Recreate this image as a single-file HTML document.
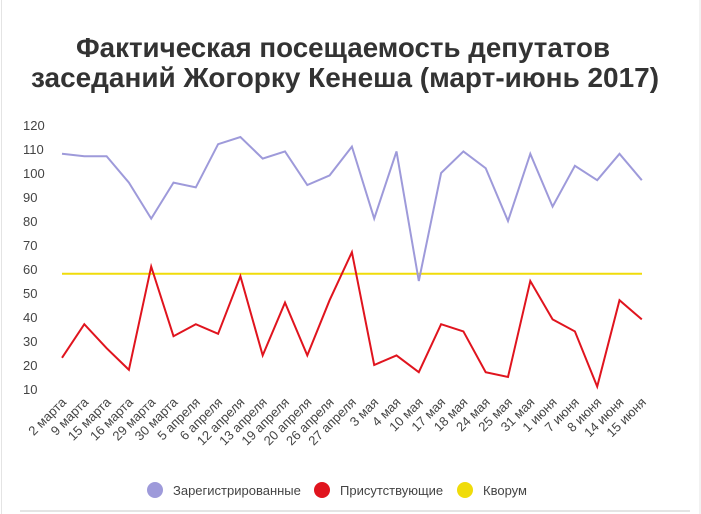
<!DOCTYPE html>
<html><head><meta charset="utf-8"><style>
body{margin:0;background:#fff;}
svg{display:block;font-family:"Liberation Sans",sans-serif;}
</style></head><body>
<svg width="701" height="514" viewBox="0 0 701 514">
<rect width="701" height="514" fill="#fff"/>
<line x1="1.5" y1="0" x2="1.5" y2="514" stroke="#e4e4e4"/>
<line x1="700" y1="0" x2="700" y2="514" stroke="#e4e4e4"/>
<line x1="20" y1="511" x2="690" y2="511" stroke="#dcdcdc" stroke-width="1.5"/>
<text x="343" y="57" text-anchor="middle" font-size="28" font-weight="bold" fill="#333" textLength="534" lengthAdjust="spacingAndGlyphs">Фактическая посещаемость депутатов</text>
<text x="345" y="87" text-anchor="middle" font-size="28" font-weight="bold" fill="#333" textLength="628" lengthAdjust="spacingAndGlyphs">заседаний Жогорку Кенеша (март-июнь 2017)</text>
<g font-size="13" fill="#444">
<text x="23" y="130">120</text><text x="23" y="154">110</text><text x="23" y="178">100</text><text x="23" y="202">90</text><text x="23" y="226">80</text><text x="23" y="250">70</text><text x="23" y="274">60</text><text x="23" y="298">50</text><text x="23" y="322">40</text><text x="23" y="346">30</text><text x="23" y="370">20</text><text x="23" y="394">10</text>
</g>
<line x1="62" y1="273.8" x2="642" y2="273.8" stroke="#f0dc0a" stroke-width="2"/>
<polyline fill="none" stroke="#9e9ada" stroke-width="2" points="62,153.8 84.3,156.2 106.6,156.2 128.9,182.6 151.2,218.6 173.5,182.6 195.8,187.4 218.1,144.2 240.4,137 262.7,158.6 285,151.4 307.3,185 329.6,175.4 351.9,146.6 374.2,218.6 396.5,151.4 418.8,281 441.1,173 463.4,151.4 485.7,168.2 508,221 530.3,153.8 552.6,206.6 574.9,165.8 597.2,180.2 619.5,153.8 641.8,180.2"/>
<polyline fill="none" stroke="#e0141e" stroke-width="2" points="62,357.8 84.3,324.2 106.6,348.2 128.9,369.8 151.2,266.6 173.5,336.2 195.8,324.2 218.1,333.8 240.4,276.2 262.7,355.4 285,302.6 307.3,355.4 329.6,300.2 351.9,252.2 374.2,365 396.5,355.4 418.8,372.2 441.1,324.2 463.4,331.4 485.7,372.2 508,377 530.3,281 552.6,319.4 574.9,331.4 597.2,386.6 619.5,300.2 641.8,319.4"/>
<g font-size="13" fill="#444" text-anchor="end">
<text transform="translate(67,403) rotate(-45)">2 марта</text>
<text transform="translate(89.3,403) rotate(-45)">9 марта</text>
<text transform="translate(111.6,403) rotate(-45)">15 марта</text>
<text transform="translate(133.9,403) rotate(-45)">16 марта</text>
<text transform="translate(156.2,403) rotate(-45)">29 марта</text>
<text transform="translate(178.5,403) rotate(-45)">30 марта</text>
<text transform="translate(200.8,403) rotate(-45)">5 апреля</text>
<text transform="translate(223.1,403) rotate(-45)">6 апреля</text>
<text transform="translate(245.4,403) rotate(-45)">12 апреля</text>
<text transform="translate(267.7,403) rotate(-45)">13 апреля</text>
<text transform="translate(290,403) rotate(-45)">19 апреля</text>
<text transform="translate(312.3,403) rotate(-45)">20 апреля</text>
<text transform="translate(334.6,403) rotate(-45)">26 апреля</text>
<text transform="translate(356.9,403) rotate(-45)">27 апреля</text>
<text transform="translate(379.2,403) rotate(-45)">3 мая</text>
<text transform="translate(401.5,403) rotate(-45)">4 мая</text>
<text transform="translate(423.8,403) rotate(-45)">10 мая</text>
<text transform="translate(446.1,403) rotate(-45)">17 мая</text>
<text transform="translate(468.4,403) rotate(-45)">18 мая</text>
<text transform="translate(490.7,403) rotate(-45)">24 мая</text>
<text transform="translate(513,403) rotate(-45)">25 мая</text>
<text transform="translate(535.3,403) rotate(-45)">31 мая</text>
<text transform="translate(557.6,403) rotate(-45)">1 июня</text>
<text transform="translate(579.9,403) rotate(-45)">7 июня</text>
<text transform="translate(602.2,403) rotate(-45)">8 июня</text>
<text transform="translate(624.5,403) rotate(-45)">14 июня</text>
<text transform="translate(646.8,403) rotate(-45)">15 июня</text>
</g>
<circle cx="155" cy="490" r="8" fill="#9e9ada"/>
<circle cx="322" cy="490" r="8" fill="#e0141e"/>
<circle cx="465" cy="490" r="8" fill="#f0dc0a"/>
<g font-size="13" fill="#444">
<text x="173" y="495">Зарегистрированные</text>
<text x="340" y="495">Присутствующие</text>
<text x="483" y="495">Кворум</text>
</g>
</svg>
</body></html>
